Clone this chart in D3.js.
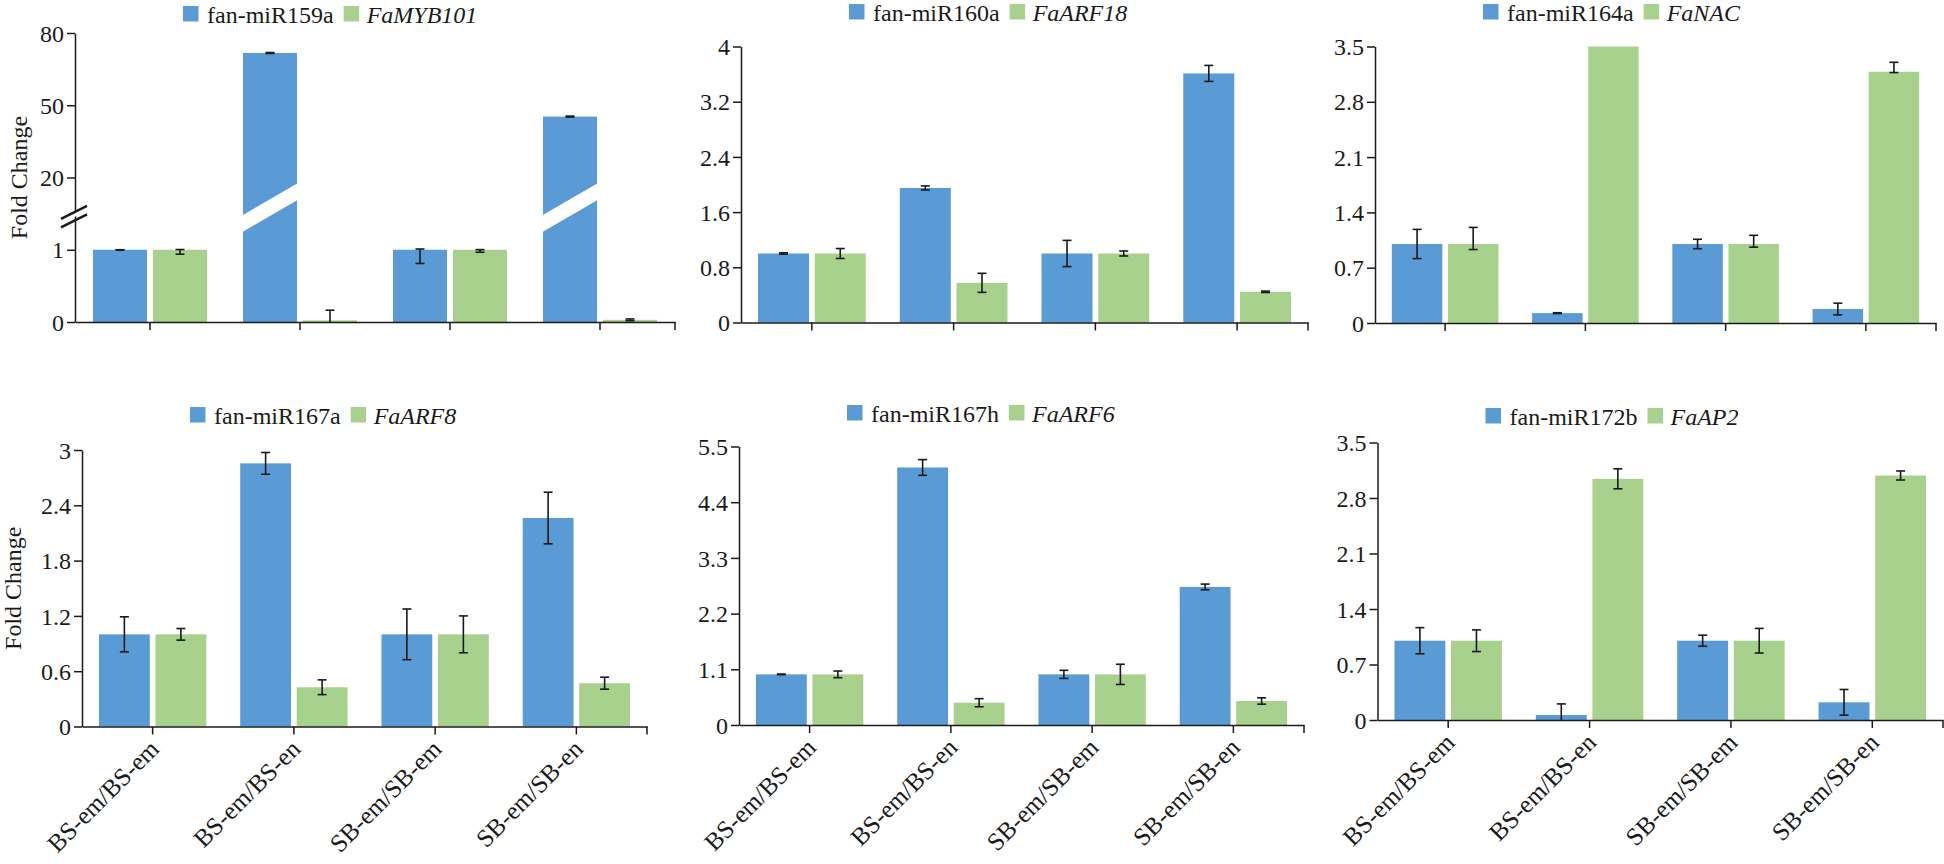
<!DOCTYPE html>
<html>
<head>
<meta charset="utf-8">
<script src="https://cdn.jsdelivr.net/npm/d3@7"></script>
<style>
  body { margin: 0; background: #fff; }
</style>
</head>
<body>
<div id="chart"></div>
<script>
const groups = ['BS-em/BS-em', 'BS-em/BS-en', 'SB-em/SB-em', 'SB-em/SB-en'];

// fan-miR159a / FaMYB101 (broken y axis)
const mir159a = [1, 71.7, 1, 45.3];
const mir159aErr = [0.005, 0.2, 0.19, 0.2];
const myb101 = [1, 0.023, 1, 0.03];
const myb101Err = [0.062, 0.14, 0.035, 0.012];
const ticks159 = [0, 1, 20, 50, 80];

// fan-miR160a / FaARF18
const mir160a = [1, 1.95, 1, 3.61];
const mir160aErr = [0.01, 0.03, 0.19, 0.116];
const arf18 = [1, 0.575, 1, 0.445];
const arf18Err = [0.072, 0.138, 0.036, 0.01];
const ticks160 = [0, 0.8, 1.6, 2.4, 3.2, 4];

// fan-miR164a / FaNAC  (some bars have uneven error: [below, above])
const mir164a = [1, 0.125, 1, 0.177];
const mir164aErr = [0.185, 0.005, 0.06, 0.074];
const nac = [1, 3.5, 1, 3.18];
const nacErr = [[0.07, 0.21], 0, [0.04, 0.11], [0.01, 0.12]];
const ticks164 = [0, 0.7, 1.4, 2.1, 2.8, 3.5];

// fan-miR167a / FaARF8
const mir167a = [1, 2.855, 1, 2.262];
const mir167aErr = [0.19, 0.118, 0.275, 0.28];
const arf8 = [1, 0.426, 1, 0.47];
const arf8Err = [0.063, 0.08, 0.2, 0.065];
const ticks167a = [0, 0.6, 1.2, 1.8, 2.4, 3];

// fan-miR167h / FaARF6
const mir167h = [1, 5.086, 1, 2.727];
const mir167hErr = [0.005, 0.155, 0.08, 0.056];
const arf6 = [1, 0.44, 1, 0.474];
const arf6Err = [0.066, 0.08, 0.2, 0.063];
const ticks167h = [0, 1.1, 2.2, 3.3, 4.4, 5.5];

// fan-miR172b / FaAP2
const mir172b = [1, 0.063, 1, 0.223];
const mir172bErr = [0.165, 0.14, 0.07, 0.162];
const ap2 = [1, 3.042, 1, 3.084];
const ap2Err = [0.137, 0.126, 0.155, 0.057];
const ticks172 = [0, 0.7, 1.4, 2.1, 2.8, 3.5];

const blue = '#5B9BD5';
const green = '#A9D18E';
const ink = '#1a1a1a';
const serif = "'Liberation Serif', 'Times New Roman', 'DejaVu Serif', serif";
const fontSize = 24;

const panels = [
    { mir: 'fan-miR159a', gene: 'FaMYB101', a: mir159a, aErr: mir159aErr, b: myb101, bErr: myb101Err, ticks: ticks159,
      left: 75, right: 675, zero: 322, top: 33, legendTop: 6, yLabelX: 27, brk: true, xLabels: false },
    { mir: 'fan-miR160a', gene: 'FaARF18', a: mir160a, aErr: mir160aErr, b: arf18, bErr: arf18Err, ticks: ticks160,
      left: 741, right: 1308, zero: 322.5, top: 46.5, legendTop: 4, xLabels: false },
    { mir: 'fan-miR164a', gene: 'FaNAC', a: mir164a, aErr: mir164aErr, b: nac, bErr: nacErr, ticks: ticks164,
      left: 1375, right: 1936, zero: 323, top: 46.5, legendTop: 4, xLabels: false },
    { mir: 'fan-miR167a', gene: 'FaARF8', a: mir167a, aErr: mir167aErr, b: arf8, bErr: arf8Err, ticks: ticks167a,
      left: 82, right: 647, zero: 726.5, top: 450, legendTop: 407, yLabelX: 21, xLabels: true },
    { mir: 'fan-miR167h', gene: 'FaARF6', a: mir167h, aErr: mir167hErr, b: arf6, bErr: arf6Err, ticks: ticks167h,
      left: 739, right: 1304, zero: 725, top: 446.5, legendTop: 405, xLabels: true },
    { mir: 'fan-miR172b', gene: 'FaAP2', a: mir172b, aErr: mir172bErr, b: ap2, bErr: ap2Err, ticks: ticks172,
      left: 1377.5, right: 1943, zero: 720, top: 442.5, legendTop: 408, xLabels: true }
];

const svg = d3.select('#chart')
    .append('svg')
    .attr('width', 1944)
    .attr('height', 864)
    .style('display', 'block')
    .attr('font-family', serif);

function errRange(v, e) {
    const lo = Array.isArray(e) ? e[0] : e;
    const hi = Array.isArray(e) ? e[1] : e;
    return [v - lo, v + hi];
}

function drawPanel(p) {
    const g = svg.append('g');

    // evenly spaced ticks, so a polylinear scale also handles the broken axis
    const y = d3.scaleLinear()
        .domain(p.ticks)
        .range(p.ticks.map((t, i) => p.zero - i * (p.zero - p.top) / (p.ticks.length - 1)));

    const x0 = d3.scaleBand().domain(groups).range([p.left, p.right]);
    const bw = x0.bandwidth();
    const x1 = d3.scaleBand()
        .domain(['a', 'b'])
        .range([bw * 0.12, bw * 0.88])
        .paddingInner(0.1);

    const rows = [];
    groups.forEach((grp, i) => {
        rows.push({ grp, key: 'a', v: p.a[i], e: p.aErr[i], color: blue });
        rows.push({ grp, key: 'b', v: p.b[i], e: p.bErr[i], color: green });
    });

    g.selectAll('.bar')
        .data(rows)
        .enter()
        .append('rect')
        .attr('class', 'bar')
        .attr('x', d => x0(d.grp) + x1(d.key))
        .attr('y', d => y(d.v))
        .attr('width', x1.bandwidth())
        .attr('height', d => y(0) - y(d.v))
        .attr('fill', d => d.color);

    if (p.brk) {
        // white slanted band across the bars that pass the axis break
        const yMid = (y(1) + y(20)) / 2 - 6;
        const slope = 0.58;
        const thick = 16.7;
        g.selectAll('.cut')
            .data(rows.filter(d => d.v > 20))
            .enter()
            .append('polygon')
            .attr('class', 'cut')
            .attr('fill', '#fff')
            .attr('points', d => {
                const xl = x0(d.grp) + x1(d.key) - 1;
                const xr = xl + x1.bandwidth() + 2;
                const w = xr - xl;
                const yl = yMid + slope * w / 2;
                const yr = yMid - slope * w / 2;
                return [[xl, yl - thick / 2], [xr, yr - thick / 2], [xr, yr + thick / 2], [xl, yl + thick / 2]].join(' ');
            });
    }

    const errs = g.selectAll('.err')
        .data(rows.filter(d => d.e !== 0))
        .enter()
        .append('g')
        .attr('class', 'err')
        .attr('stroke', ink)
        .attr('stroke-width', 1.6);

    const cx = d => x0(d.grp) + x1(d.key) + x1.bandwidth() / 2;
    const cap = 4.5;

    errs.append('line')
        .attr('x1', cx)
        .attr('x2', cx)
        .attr('y1', d => y(Math.max(0, errRange(d.v, d.e)[0])))
        .attr('y2', d => y(errRange(d.v, d.e)[1]));

    errs.append('line')
        .attr('x1', d => cx(d) - cap)
        .attr('x2', d => cx(d) + cap)
        .attr('y1', d => y(errRange(d.v, d.e)[1]))
        .attr('y2', d => y(errRange(d.v, d.e)[1]));

    errs.filter(d => errRange(d.v, d.e)[0] > 0)
        .append('line')
        .attr('x1', d => cx(d) - cap)
        .attr('x2', d => cx(d) + cap)
        .attr('y1', d => y(errRange(d.v, d.e)[0]))
        .attr('y2', d => y(errRange(d.v, d.e)[0]));

    // axes
    const yAxis = d3.axisLeft(y)
        .tickValues(p.ticks)
        .tickSize(8)
        .tickSizeOuter(0)
        .tickPadding(3)
        .tickFormat(d => d);

    const yG = g.append('g')
        .attr('transform', `translate(${p.left},0)`)
        .call(yAxis)
        .attr('font-family', serif)
        .attr('font-size', fontSize)
        .style('color', ink);
    yG.selectAll('path, line').attr('stroke-width', 1.5);
    yG.selectAll('text').attr('dy', '0.34em');

    const xAxis = d3.axisBottom(x0)
        .tickSize(8)
        .tickSizeOuter(0)
        .tickFormat(p.xLabels ? d => d : () => '');

    const xG = g.append('g')
        .attr('transform', `translate(0,${p.zero})`)
        .call(xAxis)
        .attr('font-family', serif)
        .attr('font-size', 25)
        .style('color', ink);
    xG.selectAll('path, line').attr('stroke-width', 1.5);

    xG.append('line')
        .attr('x1', p.right)
        .attr('x2', p.right)
        .attr('y1', 0)
        .attr('y2', 8)
        .attr('stroke', 'currentColor')
        .attr('stroke-width', 1.5);

    if (p.xLabels) {
        xG.selectAll('.tick text')
            .attr('x', 0)
            .attr('y', 0)
            .attr('dy', null)
            .attr('text-anchor', 'end')
            .attr('transform', 'translate(8,24) rotate(-45)');
    }

    if (p.brk) {
        // axis break mark
        const yb = (y(1) + y(20)) / 2 + 3;
        const bx = p.left;
        g.append('polygon')
            .attr('fill', '#fff')
            .attr('points', [[bx - 3, yb + 1.5], [bx + 3, yb - 1.5], [bx + 3, yb - 5.5], [bx - 3, yb - 2.5]].join(' '));
        [-4.3, 4.3].forEach(off => {
            g.append('line')
                .attr('x1', bx - 14)
                .attr('y1', yb + off + 6.5)
                .attr('x2', bx + 12)
                .attr('y2', yb + off - 6.5)
                .attr('stroke', ink)
                .attr('stroke-width', 2.6);
        });
    }

    if (p.yLabelX) {
        g.append('text')
            .attr('transform', `translate(${p.yLabelX},${(p.zero + p.top) / 2}) rotate(-90)`)
            .attr('text-anchor', 'middle')
            .attr('font-family', serif)
            .attr('font-size', fontSize)
            .attr('fill', ink)
            .text('Fold Change');
    }

    // legend
    const lg = g.append('g')
        .attr('transform', `translate(${p.left + 108},${p.legendTop})`)
        .attr('font-family', serif)
        .attr('font-size', fontSize)
        .attr('fill', ink);
    lg.append('rect')
        .attr('width', 15.5)
        .attr('height', 15.5)
        .attr('fill', blue);
    const t1 = lg.append('text')
        .attr('x', 24)
        .attr('y', 16.5)
        .text(p.mir);
    const x2 = 24 + t1.node().getComputedTextLength() + 10;
    lg.append('rect')
        .attr('x', x2)
        .attr('width', 15.5)
        .attr('height', 15.5)
        .attr('fill', green);
    lg.append('text')
        .attr('x', x2 + 23)
        .attr('y', 16.5)
        .attr('font-style', 'italic')
        .text(p.gene);
}

panels.forEach(drawPanel);
</script>
</body>
</html>
